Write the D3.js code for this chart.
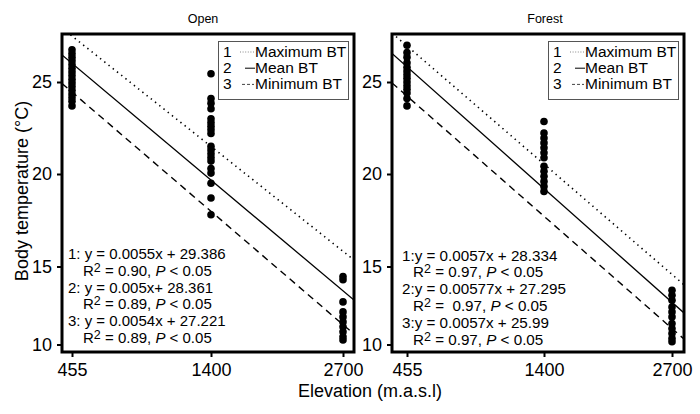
<!DOCTYPE html>
<html>
<head>
<meta charset="utf-8">
<script src="https://cdn.jsdelivr.net/npm/d3@7"></script>
<style>
body { margin: 0; background: #fff; }
text { font-family: "Liberation Sans", Arial, sans-serif; fill: #000; white-space: pre; }
</style>
</head>
<body>
<svg id="chart" width="700" height="414"></svg>
<script>
// valores
var elevations = [455, 1400, 2700];
var yTicks = [10, 15, 20, 25];
var legendLabels = ["Maximum BT", "Mean BT", "Minimum BT"];

var openBT455 = [26.75, 26.55, 26.35, 26.15, 25.95, 25.75, 25.55, 25.35, 25.15, 24.95, 24.75, 24.55, 24.35, 24.15, 23.95, 23.7];
var openBT1400 = [25.45, 24.1, 23.85, 23.55, 23.0, 22.8, 22.6, 22.4, 22.2, 21.5, 21.3, 21.1, 20.9, 20.7, 20.3, 20.05, 19.5, 18.7, 17.8];
var openBT2700 = [14.36, 14.15, 12.73, 12.09, 11.77, 11.45, 11.13, 10.81, 10.5, 10.29];

var forestBT455 = [27.0, 26.6, 26.35, 26.05, 25.8, 25.6, 25.4, 25.2, 25.0, 24.8, 24.6, 24.4, 24.1, 23.7];
var forestBT1400 = [22.85, 22.23, 21.96, 21.69, 21.42, 21.15, 20.88, 20.42, 20.15, 19.88, 19.6, 19.33, 19.06];
var forestBT2700 = [13.47, 13.15, 12.83, 12.4, 12.09, 11.77, 11.35, 11.03, 10.71, 10.39, 10.18];

// rectas: valor en el borde izquierdo y derecho del panel
var openMaxLine = [27.93, 15.35], openMeanLine = [26.47, 12.85], openMinLine = [24.92, 10.67];
var forestMaxLine = [27.66, 13.83], forestMeanLine = [26.55, 12.02], forestMinLine = [24.95, 10.35];

var openEquations = ["1: y = 0.0055x + 29.386", "2: y = 0.005x+ 28.361", "3: y = 0.0054x + 27.221"];
var openR2 = ["0.90", "0.89", "0.89"];
var forestEquations = ["1:y = 0.0057x + 28.334", "2:y = 0.00577x + 27.295", "3:y = 0.0057x + 25.99"];
var forestR2 = ["0.97", " 0.97", "0.97"];

var panels = [
    { title: "Open", titleX: 203, left: 62, right: 354, ticks: [72, 211, 343], xExt: [387, 2808],
      points: [openBT455, openBT1400, openBT2700], lines: [openMaxLine, openMeanLine, openMinLine],
      eq: openEquations, r2: openR2, eqX: 6, eqY: 259, eqSize: 15 },
    { title: "Forest", titleX: 545, left: 392, right: 684, ticks: [407, 544, 672], xExt: [352, 2822],
      points: [forestBT455, forestBT1400, forestBT2700], lines: [forestMaxLine, forestMeanLine, forestMinLine],
      eq: forestEquations, r2: forestR2, eqX: 10, eqY: 260.5, eqSize: 15.2 }
];

var plotTop = 34, plotBottom = 352;
var svg = d3.select("#chart");

//escala y compartida
var y = d3.scaleLinear().domain(yTicks).range([344.5, 266.5, 174, 82]);

var lineStyles = [
    { dash: "1.4,4", width: 1.6 },
    { dash: null, width: 1.3 },
    { dash: "7,5", width: 1.4 }
];
var legendStyles = [
    { dash: "1,1.6", width: 1, color: "#888", x0: 240, x1: 254 },
    { dash: null, width: 1, color: "#000", x0: 245, x1: 255 },
    { dash: "3,2", width: 1, color: "#444", x0: 242, x1: 254 }
];

panels.forEach(function (p, pi) {
    var x = d3.scaleLinear()
        .domain([p.xExt[0]].concat(elevations, [p.xExt[1]]))
        .range([p.left].concat(p.ticks, [p.right]));

    var g = svg.append("g");

    var clipId = "clip" + pi;
    svg.append("clipPath").attr("id", clipId)
        .append("rect")
        .attr("x", p.left).attr("y", plotTop)
        .attr("width", p.right - p.left).attr("height", plotBottom - plotTop);

    // rectas de regresion
    var line = d3.line().x(function (d) { return x(d[0]); }).y(function (d) { return y(d[1]); });
    g.append("g").attr("clip-path", "url(#" + clipId + ")")
        .selectAll("path").data(p.lines).enter().append("path")
        .attr("d", function (d) { return line([[p.xExt[0], d[0]], [p.xExt[1], d[1]]]); })
        .attr("fill", "none")
        .attr("stroke", "#000")
        .attr("stroke-width", function (d, i) { return lineStyles[i].width; })
        .attr("stroke-dasharray", function (d, i) { return lineStyles[i].dash; });

    // puntos
    var pts = [];
    p.points.forEach(function (arr, i) {
        arr.forEach(function (v) { pts.push({ e: elevations[i], v: v }); });
    });
    g.selectAll("circle").data(pts).enter().append("circle")
        .attr("cx", function (d) { return x(d.e); })
        .attr("cy", function (d) { return y(d.v); })
        .attr("r", 3.8)
        .attr("fill", "#000");

    // ejes
    var xAxis = g.append("g")
        .attr("transform", "translate(0," + plotBottom + ")")
        .call(d3.axisBottom(x).tickValues(elevations).tickFormat(d3.format("d")).tickSize(5).tickPadding(6));
    var yAxis = g.append("g")
        .attr("transform", "translate(" + p.left + ",0)")
        .call(d3.axisLeft(y).tickValues(yTicks).tickSize(5).tickPadding(5));
    [xAxis, yAxis].forEach(function (a) {
        a.select(".domain").remove();
        a.selectAll("line").attr("stroke", "#000").attr("stroke-width", 2);
        a.selectAll("text").attr("font-size", "18px").attr("font-family", "Liberation Sans, Arial, sans-serif");
    });

    // marco
    g.append("rect")
        .attr("x", p.left).attr("y", plotTop)
        .attr("width", p.right - p.left).attr("height", plotBottom - plotTop)
        .attr("fill", "none").attr("stroke", "#000").attr("stroke-width", 3);

    // titulo
    g.append("text")
        .attr("x", p.titleX).attr("y", 23)
        .attr("text-anchor", "middle").attr("font-size", "12.5px")
        .text(p.title);

    // leyenda
    var lg = g.append("g").attr("transform", "translate(" + (p.left - 62) + ",0)");
    lg.append("rect")
        .attr("x", 218.5).attr("y", 41.5).attr("width", 130).attr("height", 58)
        .attr("fill", "#fff").attr("stroke", "#555").attr("stroke-width", 1);
    legendLabels.forEach(function (lab, i) {
        var by = 57 + i * 16.2;
        lg.append("text").attr("x", 223).attr("y", by).attr("font-size", "15.5px").text(i + 1);
        var s = legendStyles[i];
        lg.append("line")
            .attr("x1", s.x0).attr("x2", s.x1).attr("y1", by - 5).attr("y2", by - 5)
            .attr("stroke", s.color).attr("stroke-width", s.width)
            .attr("stroke-dasharray", s.dash);
        lg.append("text").attr("x", 255).attr("y", by).attr("font-size", "15.5px").text(lab);
    });

    // ecuaciones
    var rowH = 16.8;
    p.eq.forEach(function (eq, i) {
        g.append("text")
            .attr("x", p.left + p.eqX).attr("y", p.eqY + rowH * 2 * i)
            .attr("font-size", p.eqSize + "px")
            .text(eq);
        var t = g.append("text")
            .attr("x", p.left + 21).attr("y", p.eqY + rowH * (2 * i + 1))
            .attr("font-size", p.eqSize + "px");
        t.append("tspan").text("R");
        t.append("tspan").attr("dy", -4).attr("font-size", "12.5px").text("2");
        t.append("tspan").attr("dy", 4).text(" = " + p.r2[i] + ", ");
        t.append("tspan").attr("font-style", "italic").text("P");
        t.append("tspan").text(" < 0.05");
    });
});

// etiquetas de ejes
svg.append("text")
    .attr("x", 370).attr("y", 397)
    .attr("text-anchor", "middle").attr("font-size", "18px")
    .text("Elevation (m.a.s.l)");

svg.append("text")
    .attr("transform", "translate(28,191) rotate(-90)")
    .attr("text-anchor", "middle").attr("font-size", "18px")
    .text("Body temperature (°C)");
</script>
</body>
</html>
